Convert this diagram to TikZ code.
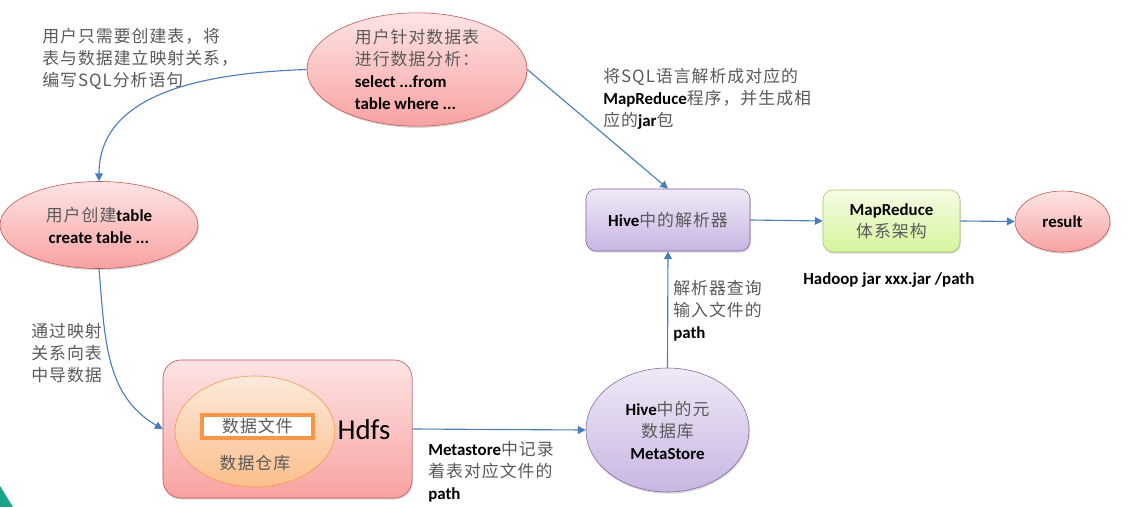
\documentclass[tikz,border=0pt]{standalone}
\usepackage{fontspec}
\setmainfont{Carlito}
\newfontfamily\cjk[LetterSpace=6]{Noto Sans CJK SC}
\usetikzlibrary{shapes.geometric,arrows.meta,shadows}
\definecolor{zhgray}{HTML}{5A5A5A}
\definecolor{flowblue}{HTML}{4A7EBB}
\definecolor{redtop}{HTML}{FDE4E4}
\definecolor{redbot}{HTML}{F9A2A2}
\definecolor{redline}{HTML}{C0504D}
\definecolor{purtop}{HTML}{EFE9F7}
\definecolor{purbot}{HTML}{C8B6E2}
\definecolor{purline}{HTML}{8064A2}
\definecolor{grntop}{HTML}{F5FCE4}
\definecolor{grnbot}{HTML}{D5F59C}
\definecolor{grnline}{HTML}{A6C46A}
\definecolor{orgtop}{HTML}{FDEADB}
\definecolor{orgbot}{HTML}{FBBF8C}
\definecolor{orgline}{HTML}{F79646}
\definecolor{tealc}{HTML}{1BA38A}
\newcommand{\zh}[1]{{\cjk\mdseries\color{zhgray}#1}}
\begin{document}
\begin{tikzpicture}[x=0.025cm,y=-0.025cm,
  font=\fontsize{12}{15.6}\selectfont\bfseries,
  shad/.style={drop shadow={shadow xshift=0.6pt,shadow yshift=-1.2pt,opacity=0.25,fill=black!60}},
  redball/.style={ellipse,draw=redline,top color=redtop,bottom color=redbot,inner sep=0pt,shad},
  purbox/.style={rectangle,rounded corners=0.25cm,draw=purline,top color=purtop,bottom color=purbot,inner sep=0pt,shad},
  grnbox/.style={rectangle,rounded corners=0.25cm,draw=grnline,top color=grntop,bottom color=grnbot,inner sep=0pt,shad},
  note/.style={anchor=west,align=left,inner sep=0pt},
  flow/.style={draw=flowblue,line width=0.8pt,-{Triangle[length=5.5pt,width=5.5pt]}}]
\useasboundingbox (0,0) rectangle (1140,507);
% corner of the slide
\fill[tealc] (0,486) -- (13,507) -- (0,507) -- cycle;
% shapes
\node[redball,minimum width=5.5cm,minimum height=2.825cm,align=left] (qry) at (417,69.5)
  {\zh{用户针对数据表}\\\zh{进行数据分析：}\\select ...from\\table where ...};
\node[redball,minimum width=4.95cm,minimum height=2.175cm,align=center] (crt) at (99,225)
  {\zh{用户创建}table\\create table ...};
\node[purbox,minimum width=4.1cm,minimum height=1.55cm] (hive) at (668,220) {Hive\zh{中的解析器}};
\node[grnbox,minimum width=3.425cm,minimum height=1.55cm,align=center] (mr) at (891.5,221)
  {MapReduce\\\zh{体系架构}};
\node[redball,minimum width=2.375cm,minimum height=1.525cm] (res) at (1062.5,221.5) {result};
\node[ellipse,draw=purline,top color=purtop,bottom color=purbot,inner sep=0pt,shad,
  minimum width=4.075cm,minimum height=3.1cm,align=center] (meta) at (667.5,430)
  {Hive\zh{中的元}\\\zh{数据库}\\MetaStore};
\node[rectangle,rounded corners=0.45cm,draw=redline,top color=redtop,bottom color=redbot,shad,
  minimum width=6.225cm,minimum height=3.45cm] (hdfs) at (287.5,429) {};
\node[ellipse,draw=orgline,top color=orgtop,bottom color=orgbot,
  minimum width=4cm,minimum height=2.775cm] (wh) at (255,431.5) {};
\node[draw=orgline,line width=2.2pt,fill=white,minimum width=2.775cm,minimum height=0.575cm,
  inner sep=0pt] (file) at (257.5,426.5) {\zh{数据文件}};
\node[inner sep=0pt] (whlab) at (255,463) {\zh{数据仓库}};
\node[inner sep=0pt,font=\fontsize{20.5}{24}\selectfont] (hdfslab) at (364,430) {Hdfs};
% notes
\node[note] (n1) at (42,59) {\zh{用户只需要创建表，将}\\\zh{表与数据建立映射关系，}\\\zh{编写SQL分析语句}};
\node[note] (n2) at (603,99) {\zh{将SQL语言解析成对应的}\\MapReduce\zh{程序，并生成相}\\\zh{应的}jar\zh{包}};
\node[note] (n3) at (31,353) {\zh{通过映射}\\\zh{关系向表}\\\zh{中导数据}};
\node[note] (n4) at (428,472) {Metastore\zh{中记录}\\\zh{着表对应文件的}\\path};
\node[note] (n5) at (673,311) {\zh{解析器查询}\\\zh{输入文件的}\\path};
\node[note] (n6) at (803,280) {Hadoop jar xxx.jar /path};
% connectors
\draw[flow] (qry.west) to[out=182,in=90] (crt.north);
\draw[flow] (qry.east) -- (hive.north);
\draw[flow] (hive.east) -- (mr.west);
\draw[flow] (mr.east) -- (res.west);
\draw[flow] (crt.south) to[out=-85,in=150] (hdfs.west);
\draw[flow] (hdfs.east) -- (meta.west);
\draw[flow] (meta.north) -- (hive.south);
\end{tikzpicture}
\end{document}
